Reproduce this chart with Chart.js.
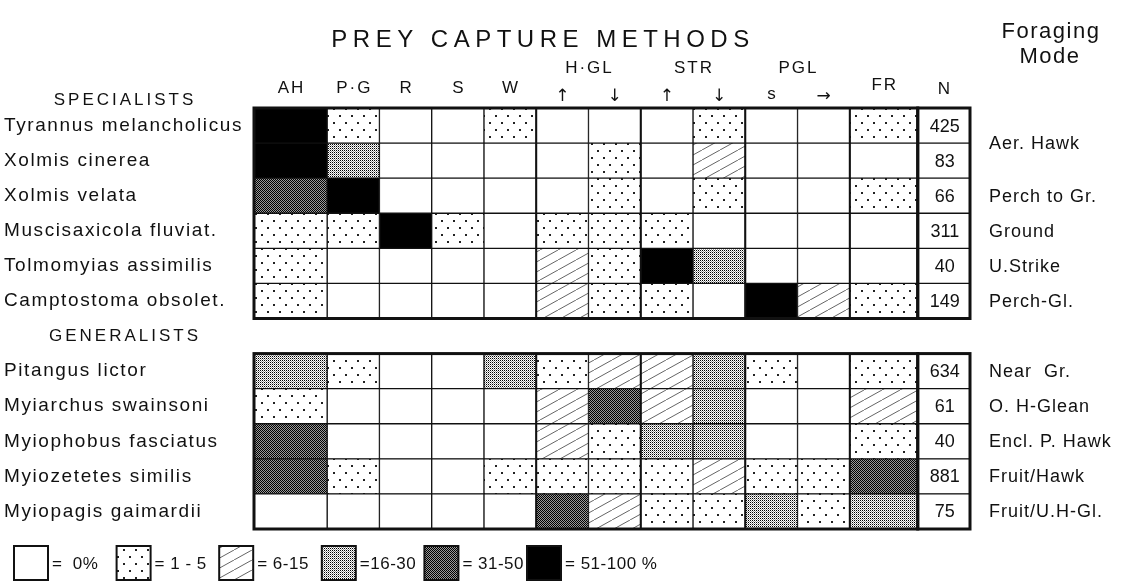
<!DOCTYPE html>
<html>
<head>
<meta charset="utf-8">
<script src="https://cdn.jsdelivr.net/npm/chart.js@4.4.1/dist/chart.umd.min.js"></script>
<style>
    html, body { margin: 0; padding: 0; background: #fff; }
    canvas { display: block; }
</style>
</head>
<body>
<canvas id="chart" width="1131" height="584"></canvas>
<script>
// Prey capture methods (columns)
const methods = ['AH', 'P·G', 'R', 'S', 'W', 'H·GL ↑', 'H·GL ↓', 'STR ↑', 'STR ↓', 'PGL s', 'PGL →', 'FR'];

const specialists = ['Tyrannus melancholicus', 'Xolmis cinerea', 'Xolmis velata',
    'Muscisaxicola fluviat.', 'Tolmomyias assimilis', 'Camptostoma obsolet.'];
const generalists = ['Pitangus lictor', 'Myiarchus swainsoni', 'Myiophobus fasciatus',
    'Myiozetetes similis', 'Myiopagis gaimardii'];

// class per cell: 0 = 0%, 1 = 1-5, 2 = 6-15, 3 = 16-30, 4 = 31-50, 5 = 51-100
const specialistLevels = [
    [5, 1, 0, 0, 1, 0, 0, 0, 1, 0, 0, 1],
    [5, 3, 0, 0, 0, 0, 1, 0, 2, 0, 0, 0],
    [4, 5, 0, 0, 0, 0, 1, 0, 1, 0, 0, 1],
    [1, 1, 5, 1, 0, 1, 1, 1, 0, 0, 0, 0],
    [1, 0, 0, 0, 0, 2, 1, 5, 3, 0, 0, 0],
    [1, 0, 0, 0, 0, 2, 1, 1, 0, 5, 2, 1]
];
const generalistLevels = [
    [3, 1, 0, 0, 3, 1, 2, 2, 3, 1, 0, 1],
    [1, 0, 0, 0, 0, 2, 4, 2, 3, 0, 0, 2],
    [4, 0, 0, 0, 0, 2, 1, 3, 3, 0, 0, 1],
    [4, 1, 0, 0, 1, 1, 1, 1, 2, 1, 1, 4],
    [0, 0, 0, 0, 0, 4, 2, 1, 1, 3, 1, 3]
];

const specialistN = [425, 83, 66, 311, 40, 149];
const generalistN = [634, 61, 40, 881, 75];

const specialistModes = ['Aer. Hawk', 'Aer. Hawk', 'Perch to Gr.', 'Ground', 'U.Strike', 'Perch-Gl.'];
const generalistModes = ['Near  Gr.', 'O. H-Glean', 'Encl. P. Hawk', 'Fruit/Hawk', 'Fruit/U.H-Gl.'];

const legendLabels = ['=  0%', '= 1 - 5', '= 6-15', '=16-30', '= 31-50', '= 51-100 %'];

// layout: relative column widths (last one is the N column)
const colUnits = [1.4, 1, 1, 1, 1, 1, 1, 1, 1, 1, 1, 1.3, 1.0];
const edges = [0];
colUnits.forEach(u => edges.push(edges[edges.length - 1] + u));

const FONT = '"Liberation Sans", "DejaVu Sans", Arial, sans-serif';
const INK = '#111';

// rows: specialists, an empty spacer row, generalists
const rowLabels = [...specialists, '', ...generalists];
const rowLevels = [...specialistLevels, null, ...generalistLevels];
const rowN = [...specialistN, null, ...generalistN];
const rowModes = [...specialistModes, null, ...generalistModes];

// Fill patterns
function makeTile(w, h, draw) {
    const c = document.createElement('canvas');
    c.width = w; c.height = h;
    const g = c.getContext('2d');
    g.fillStyle = '#fff';
    g.fillRect(0, 0, w, h);
    draw(g);
    return document.getElementById('chart').getContext('2d').createPattern(c, 'repeat');
}
const patterns = [
    '#ffffff',
    makeTile(12, 14, g => {
        g.fillStyle = '#222';
        g.fillRect(3, 3, 2, 2);
        g.fillRect(9, 10, 2, 2);
    }),
    makeTile(18, 10, g => {
        g.strokeStyle = '#666';
        g.lineWidth = 1;
        g.beginPath();
        g.moveTo(0, 10); g.lineTo(18, 0);
        g.stroke();
    }),
    makeTile(2, 2, g => {
        g.fillStyle = '#000';
        g.fillRect(0, 0, 1, 1);
        g.fillStyle = '#999';
        g.fillRect(1, 1, 1, 1);
    }),
    makeTile(2, 2, g => {
        g.fillStyle = '#000';
        g.fillRect(0, 0, 1, 1);
        g.fillRect(1, 1, 1, 1);
        g.fillStyle = '#9a9a9a';
        g.fillRect(1, 0, 1, 1);
        g.fillRect(0, 1, 1, 1);
    }),
    '#000000'
];

const datasets = methods.map((m, c) => ({
    label: m,
    data: rowLevels.map(lv => lv ? [edges[c], edges[c + 1]] : null),
    backgroundColor: ctx => {
        const lv = rowLevels[ctx.dataIndex];
        return lv ? patterns[lv[c]] : '#fff';
    }
}));
datasets.push({
    label: 'N',
    data: rowN.map(n => n == null ? null : [edges[12], edges[13]]),
    backgroundColor: '#fff'
});

const decor = {
    id: 'decor',
    beforeDraw(chart) {
        chart.ctx.letterSpacing = '1.6px';
    },
    beforeDatasetsDraw(chart) {
        chart.ctx.letterSpacing = '0px';
    },
    afterDatasetsDraw(chart) {
        const { ctx, scales: { x, y } } = chart;
        const band = y.getPixelForValue(1) - y.getPixelForValue(0);
        const top = i => y.getPixelForValue(i) - band / 2;
        const bottom = i => y.getPixelForValue(i) + band / 2;
        const colX = c => x.getPixelForValue(edges[c]);
        const colMid = c => x.getPixelForValue((edges[c] + edges[c + 1]) / 2);

        ctx.save();
        ctx.strokeStyle = INK;

        // heavy frames around each block and the N column
        [[0, specialists.length - 1], [specialists.length + 1, rowLabels.length - 1]].forEach(([a, b]) => {
            const y0 = top(a), y1 = bottom(b);
            ctx.lineWidth = 3;
            ctx.strokeRect(colX(0), y0, colX(12) - colX(0), y1 - y0);
            ctx.strokeRect(colX(12), y0, colX(13) - colX(12), y1 - y0);
            ctx.lineWidth = 2;
            [5, 7, 9, 11].forEach(c => {
                ctx.beginPath();
                ctx.moveTo(colX(c), y0);
                ctx.lineTo(colX(c), y1);
                ctx.stroke();
            });
        });

        ctx.fillStyle = INK;
        ctx.textBaseline = 'middle';

        // N values
        ctx.font = '18px ' + FONT;
        ctx.textAlign = 'center';
        rowN.forEach((n, i) => {
            if (n == null) return;
            ctx.fillText(String(n), colMid(12) + 1, y.getPixelForValue(i) + 1);
        });

        // foraging mode labels (merge repeated neighbours)
        ctx.textAlign = 'left';
        ctx.letterSpacing = '1px';
        for (let i = 0; i < rowModes.length; i++) {
            if (!rowModes[i]) continue;
            let j = i;
            while (j + 1 < rowModes.length && rowModes[j + 1] === rowModes[i]) j++;
            const yy = (y.getPixelForValue(i) + y.getPixelForValue(j)) / 2;
            ctx.fillText(rowModes[i], 989, yy + 1);
            i = j;
        }

        // column headers
        ctx.textBaseline = 'alphabetic';
        ctx.textAlign = 'center';
        ctx.font = '17px ' + FONT;
        ctx.letterSpacing = '2px';
        methods.forEach((m, c) => {
            const parts = m.split(' ');
            if (parts.length === 1) {
                ctx.fillText(m, colMid(c) + 1, m === 'FR' ? 90 : 93);
            }
        });
        ctx.fillText('N', colMid(12) + 1, 94);
        // grouped headers
        const groups = {};
        methods.forEach((m, c) => {
            const parts = m.split(' ');
            if (parts.length === 2) {
                (groups[parts[0]] = groups[parts[0]] || []).push(c);
                ctx.save();
                ctx.letterSpacing = '0px';
                if (parts[1] === 's') {
                    ctx.font = '17px ' + FONT;
                    ctx.fillText(parts[1], colMid(c), 99);
                } else {
                    ctx.font = '17px "DejaVu Sans", sans-serif';
                    ctx.fillText(parts[1], colMid(c), 101);
                }
                ctx.restore();
            }
        });
        Object.keys(groups).forEach(g => {
            const cs = groups[g];
            const mid = (colX(cs[0]) + colX(cs[cs.length - 1] + 1)) / 2;
            ctx.fillText(g, mid + 1, 73);
        });

        // section titles
        ctx.font = '17px ' + FONT;
        ctx.letterSpacing = '3px';
        ctx.textBaseline = 'middle';
        ctx.fillText('SPECIALISTS', 125, 100);
        ctx.fillText('GENERALISTS', 125, y.getPixelForValue(specialists.length));

        // title
        ctx.font = '24px ' + FONT;
        ctx.letterSpacing = '5.5px';
        ctx.textBaseline = 'alphabetic';
        ctx.fillText('PREY CAPTURE METHODS', 543, 47);

        ctx.font = '22px ' + FONT;
        ctx.letterSpacing = '1.5px';
        ctx.fillText('Foraging', 1051, 38);
        ctx.fillText('Mode', 1050, 63);

        // legend
        ctx.font = '17px ' + FONT;
        ctx.textAlign = 'left';
        ctx.textBaseline = 'middle';
        ctx.letterSpacing = '0.5px';
        legendLabels.forEach((t, i) => {
            const bx = 14 + i * 102.6, by = 546, s = 34;
            ctx.fillStyle = patterns[i];
            ctx.fillRect(bx, by, s, s);
            ctx.lineWidth = 2;
            ctx.strokeRect(bx, by, s, s);
            ctx.fillStyle = INK;
            ctx.fillText(t, bx + s + 4, by + s / 2 + 1);
        });
        ctx.restore();
    }
};

new Chart(document.getElementById('chart'), {
    type: 'bar',
    data: { labels: rowLabels, datasets },
    options: {
        responsive: false,
        animation: false,
        indexAxis: 'y',
        layout: { padding: { top: 108, bottom: 55, left: 4, right: 161 } },
        datasets: {
            bar: {
                grouped: false,
                barPercentage: 1,
                categoryPercentage: 1,
                borderColor: INK,
                borderWidth: 1,
                borderSkipped: false
            }
        },
        plugins: {
            legend: { display: false },
            tooltip: { enabled: false }
        },
        scales: {
            x: { type: 'linear', min: 0, max: edges[edges.length - 1], display: false },
            y: {
                type: 'category',
                offset: true,
                grid: { display: false },
                border: { display: false },
                ticks: {
                    autoSkip: false,
                    padding: 0,
                    crossAlign: 'far',
                    color: INK,
                    font: { family: FONT, size: 19 }
                },
                afterFit: scale => { scale.width = 250; }
            }
        }
    },
    plugins: [decor]
});
</script>
</body>
</html>
